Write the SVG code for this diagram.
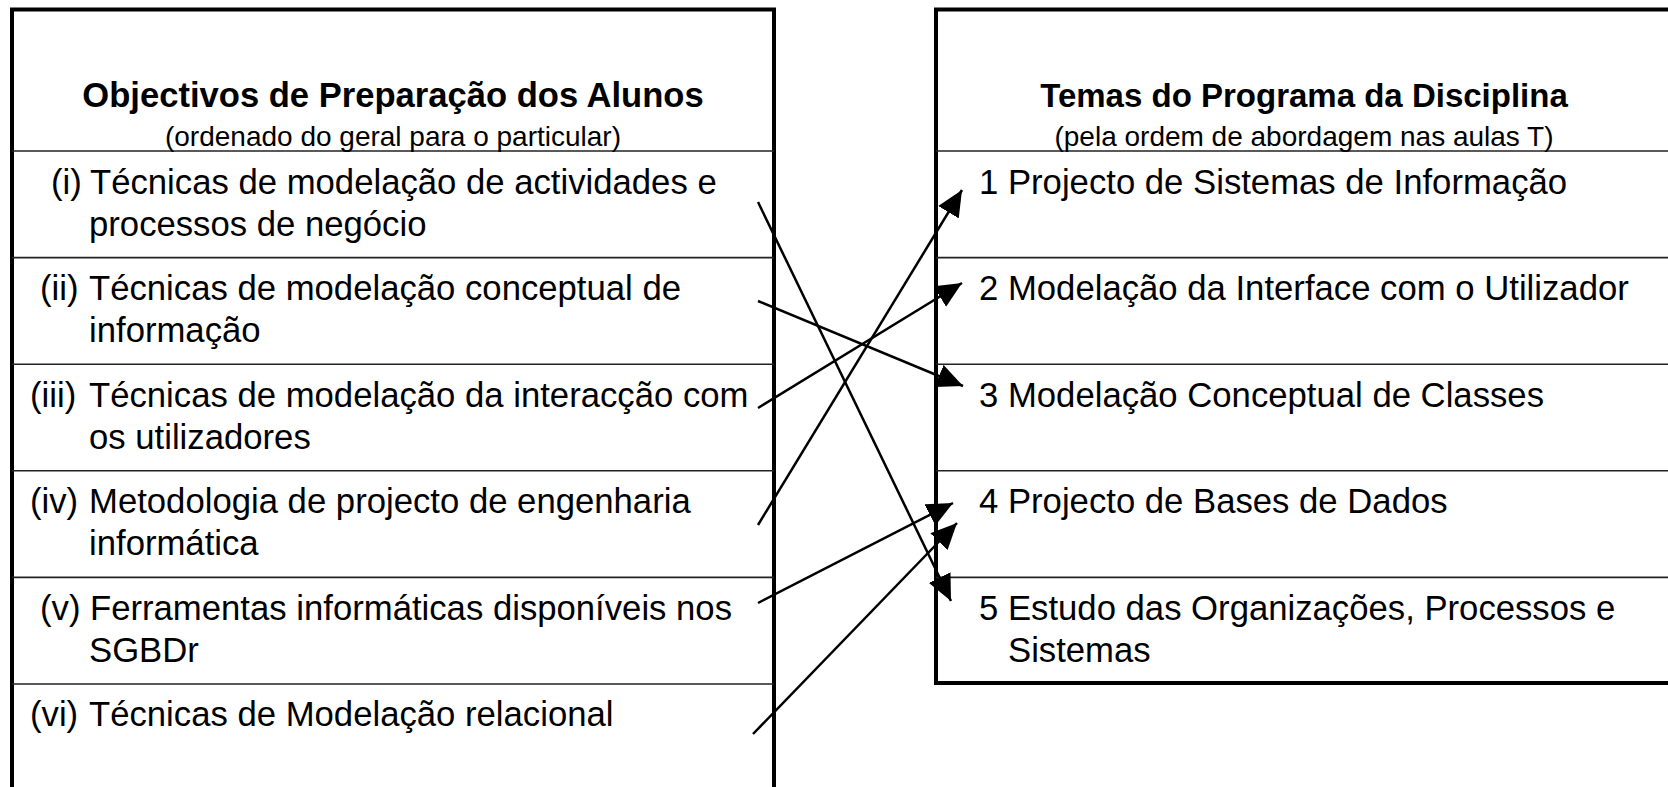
<svg xmlns="http://www.w3.org/2000/svg" width="1668" height="787" viewBox="0 0 1668 787">
<style>
.box{fill:#fff;stroke:#000;stroke-width:4}
.sep{stroke:#222;stroke-width:1.6}
.t{font-family:"Liberation Sans",Arial,sans-serif;font-size:34.7px;fill:#000}
.h{font-family:"Liberation Sans",Arial,sans-serif;font-size:34.6px;font-weight:bold;fill:#000}
.h2{font-family:"Liberation Sans",Arial,sans-serif;font-size:33px;font-weight:bold;fill:#000}
.s{font-family:"Liberation Sans",Arial,sans-serif;font-size:28px;fill:#000}
.c{stroke:#000;stroke-width:2.5;fill:none;marker-end:url(#ah)}
</style>
<defs>
<marker id="ah" markerUnits="userSpaceOnUse" markerWidth="28" markerHeight="24" refX="26" refY="12" orient="auto">
<path d="M0,0 L26,12 L0,24 z" fill="#000"/>
</marker>
</defs>
<rect width="1668" height="787" fill="#fff"/>
<g id="left-panel">
<rect class="box" x="12" y="9.5" width="762" height="900"/>
<line class="sep" x1="12" y1="151" x2="774" y2="151"/>
<line class="sep" x1="12" y1="257.6" x2="774" y2="257.6"/>
<line class="sep" x1="12" y1="364.2" x2="774" y2="364.2"/>
<line class="sep" x1="12" y1="470.8" x2="774" y2="470.8"/>
<line class="sep" x1="12" y1="577.4" x2="774" y2="577.4"/>
<line class="sep" x1="12" y1="684" x2="774" y2="684"/>
</g>
<g id="right-panel">
<rect class="box" x="936" y="9.5" width="740" height="673.5"/>
<line class="sep" x1="936" y1="151" x2="1668" y2="151"/>
<line class="sep" x1="936" y1="257.6" x2="1668" y2="257.6"/>
<line class="sep" x1="936" y1="364.2" x2="1668" y2="364.2"/>
<line class="sep" x1="936" y1="470.8" x2="1668" y2="470.8"/>
<line class="sep" x1="936" y1="577.4" x2="1668" y2="577.4"/>
</g>
<g id="left-header">
<text class="h" x="393" y="107" text-anchor="middle">Objectivos de Preparação dos Alunos</text>
<text class="s" x="393" y="146" text-anchor="middle">(ordenado do geral para o particular)</text>
</g>
<g id="obj-i">
<text class="t" x="51" y="194">(i)</text>
<text class="t" x="90" y="194">Técnicas de modelação de actividades e</text>
<text class="t" x="89" y="236">processos de negócio</text>
</g>
<g id="obj-ii">
<text class="t" x="40" y="300">(ii)</text>
<text class="t" x="89" y="300">Técnicas de modelação conceptual de</text>
<text class="t" x="89" y="342">informação</text>
</g>
<g id="obj-iii">
<text class="t" x="30" y="407">(iii)</text>
<text class="t" x="89" y="407">Técnicas de modelação da interacção com</text>
<text class="t" x="89" y="449">os utilizadores</text>
</g>
<g id="obj-iv">
<text class="t" x="30" y="513">(iv)</text>
<text class="t" x="89" y="513">Metodologia de projecto de engenharia</text>
<text class="t" x="89" y="555">informática</text>
</g>
<g id="obj-v">
<text class="t" x="40" y="620">(v)</text>
<text class="t" x="90" y="620">Ferramentas informáticas disponíveis nos</text>
<text class="t" x="89" y="662">SGBDr</text>
</g>
<g id="obj-vi">
<text class="t" x="30" y="726">(vi)</text>
<text class="t" x="89" y="726">Técnicas de Modelação relacional</text>
</g>
<g id="right-header">
<text class="h2" x="1304" y="107" text-anchor="middle">Temas do Programa da Disciplina</text>
<text class="s" x="1304" y="146" text-anchor="middle">(pela ordem de abordagem nas aulas T)</text>
</g>
<g id="tema-1"><text class="t" x="979" y="194">1 Projecto de Sistemas de Informação</text></g>
<g id="tema-2"><text class="t" x="979" y="300">2 Modelação da Interface com o Utilizador</text></g>
<g id="tema-3"><text class="t" x="979" y="407">3 Modelação Conceptual de Classes</text></g>
<g id="tema-4"><text class="t" x="979" y="513">4 Projecto de Bases de Dados</text></g>
<g id="tema-5">
<text class="t" x="979" y="620">5 Estudo das Organizações, Processos e</text>
<text class="t" x="1008" y="662">Sistemas</text>
</g>
<g id="connectors">
<line class="c" x1="758" y1="202" x2="951" y2="601"/>
<line class="c" x1="758" y1="301" x2="963" y2="386"/>
<line class="c" x1="758" y1="408" x2="962" y2="283"/>
<line class="c" x1="758" y1="525" x2="962" y2="190"/>
<line class="c" x1="758" y1="603" x2="953" y2="503"/>
<line class="c" x1="753" y1="734" x2="957" y2="523"/>
</g>
</svg>
